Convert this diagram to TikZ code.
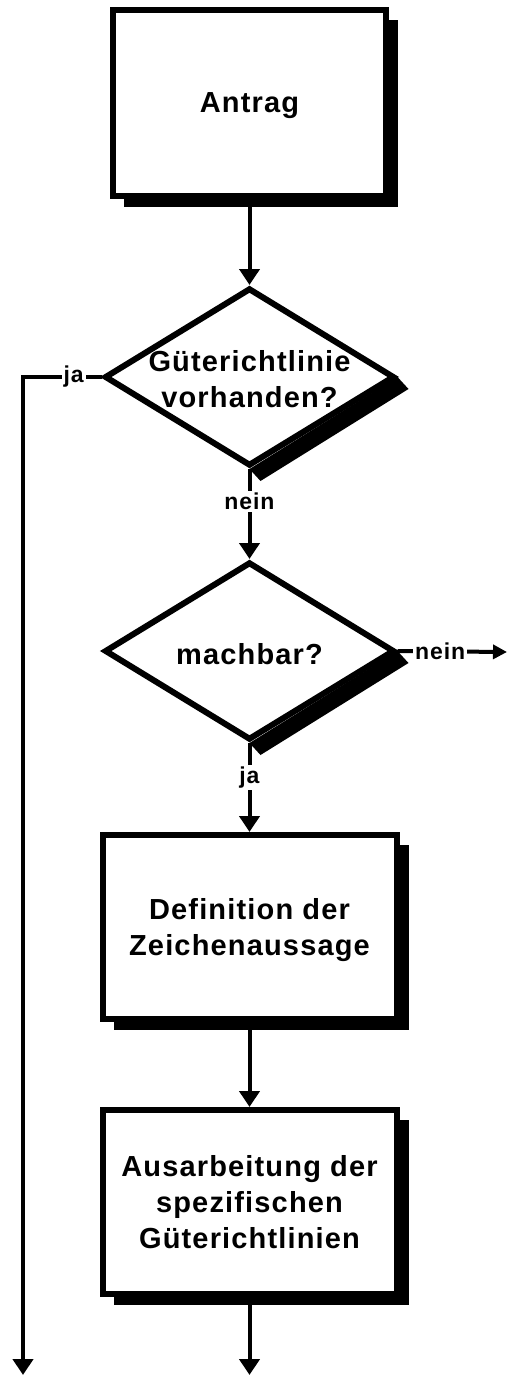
\documentclass[tikz,border=0pt]{standalone}
\usepackage{fontspec}
\setmainfont{Liberation Sans}[LetterSpace=4]
\usetikzlibrary{shapes.geometric,arrows.meta,calc}
\pgfdeclarelayer{bg}
\pgfsetlayers{bg,main}
\begin{document}
\begin{tikzpicture}[x=1pt,y=-1pt,
  txt/.style={font=\fontsize{29}{36}\selectfont\bfseries, align=center, text depth=0pt},
  box/.style={draw, line width=6pt, fill=white, minimum width=294pt, minimum height=184pt, inner sep=0pt, txt},
  dia/.style={diamond, draw, line width=6pt, fill=white, minimum width=290pt, minimum height=178pt, inner sep=0pt},
  dtext/.style={txt, inner sep=0pt},
  lbl/.style={font=\fontsize{23}{26}\selectfont\bfseries, fill=white, inner sep=2pt},
  conn/.style={line width=4pt, -{Triangle[width=20pt,length=16pt]}},
  connR/.style={line width=4pt, -{Triangle[width=14pt,length=14pt]}},
  shadow/.style={fill=black}
]
\useasboundingbox (0,0) rectangle (507,1375);

\node[box, minimum width=273pt, minimum height=186pt] (antrag) at (249.5,103) {Antrag};
\node[dia] (d1) at (249.5,377) {};
\node[dtext] (d1t) at (249.5,378.5) {Güterichtlinie\\vorhanden?};
\node[dia] (d2) at (249.5,651) {};
\node[dtext] (d2t) at (249.5,653.5) {machbar?};
\node[box] (def) at (249.5,927) {Definition der\\Zeichenaussage};
\node[box] (aus) at (249.5,1202) {Ausarbeitung der\\spezifischen\\Güterichtlinien};

\coordinate (endL) at (23,1375);
\coordinate (endM) at (249.5,1375);
\coordinate (endR) at (507,652);

\begin{pgfonlayer}{bg}
  \fill[shadow] ($(antrag.north west)+(14,13)$) rectangle ($(antrag.south east)+(9,8)$);
  \fill[shadow] ($(def.north west)+(14,13)$) rectangle ($(def.south east)+(9,8)$);
  \fill[shadow] ($(aus.north west)+(14,13)$) rectangle ($(aus.south east)+(9,8)$);
  \fill[shadow] (d1.east) -- ++(11,12) -- ($(d1.south)+(11,12)$) -- (d1.south) -- cycle;
  \fill[shadow] (d2.east) -- ++(11,12) -- ($(d2.south)+(11,12)$) -- (d2.south) -- cycle;
\end{pgfonlayer}

\draw[conn] (antrag.south) -- (d1.north);
\draw[conn] (d1.south) -- node[lbl, pos=0.36] {nein} (d2.north);
\draw[conn] (d1.west) -| node[lbl, pos=0.177] {ja} (endL);
\draw[conn] (d2.south) -- node[lbl, pos=0.39] {ja} (def.north);
\draw[connR] (d2.east) -- node[lbl, pos=0.39] {nein} (endR);
\draw[conn] (def.south) -- (aus.north);
\draw[conn] (aus.south) -- (endM);
\end{tikzpicture}
\end{document}
